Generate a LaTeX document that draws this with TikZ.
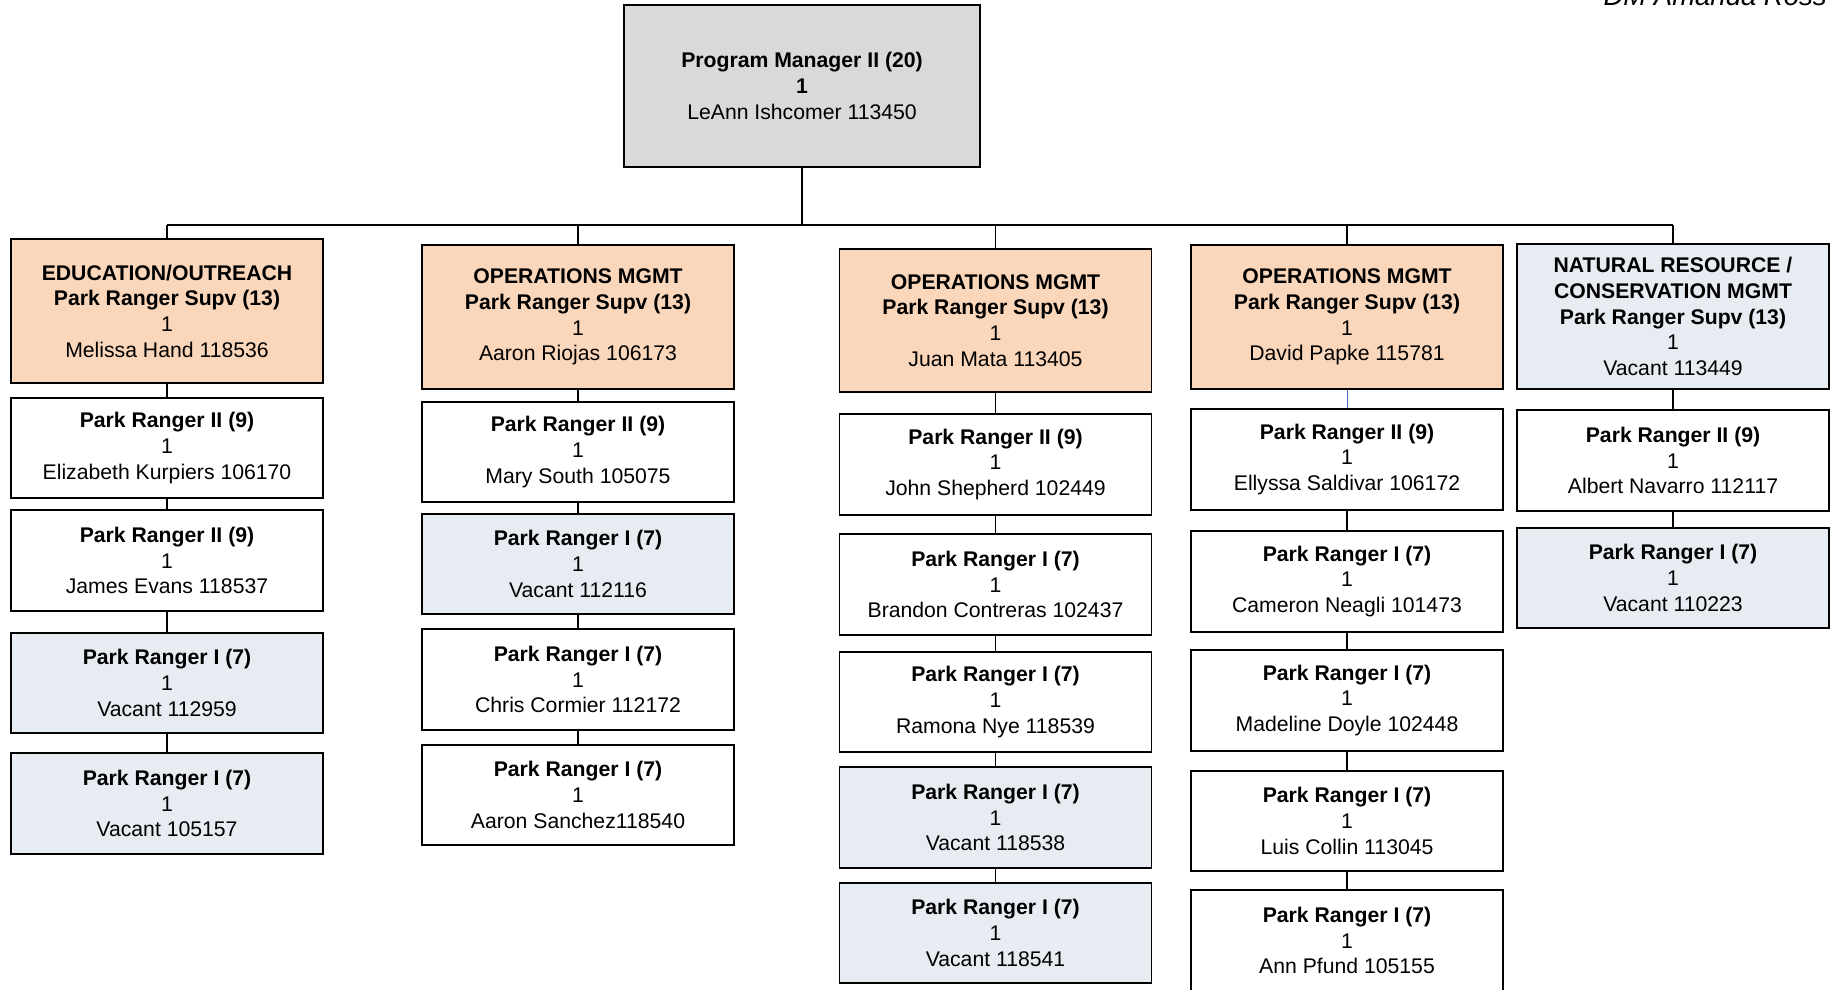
\documentclass[tikz,border=0pt]{standalone}
\usepackage{fontspec}
\setmainfont{Liberation Sans}
\definecolor{peach}{HTML}{FAD6BA}
\definecolor{vac}{HTML}{E7ECF3}
\definecolor{topgray}{HTML}{D9D9D9}
\definecolor{linkblue}{HTML}{4472C4}
\tikzset{
  orgbox/.style={draw=black, line width=1.5pt, inner sep=0pt, align=center,
    font=\fontsize{21.2}{25.7}\selectfont, fill=white},
  supbox/.style={orgbox, fill=peach},
  vacbox/.style={orgbox, fill=vac},
  plainbox/.style={orgbox, fill=white},
  topbox/.style={orgbox, fill=topgray},
  link/.style={draw=black, line width=1.6pt},
  buslink/.style={draw=black, line width=2pt},
}
% name, cx, top, bottom, style, text
\newcommand\orgnode[6]{%
  \node[#5, minimum width=312pt, minimum height={(#4-#3)*1pt}] (#1) at (#2,{(#3+#4)/2}) {#6};}
\begin{document}
\begin{tikzpicture}[x=1pt,y=-1pt]
\useasboundingbox (0,0) rectangle (1831,990);

\node[anchor=base west, font=\fontsize{27.5}{30}\selectfont\itshape] (dm) at (1600,6) {DM Amanda Ross};

\node[topbox, minimum width=356pt, minimum height=162pt] (pm) at (802,86)
  {\textbf{Program Manager II (20)}\\\textbf{1}\\LeAnn Ishcomer 113450};

\coordinate (bus) at (0,225);

% column 1
\orgnode{c1s}{167}{239}{383}{supbox}{\textbf{EDUCATION/OUTREACH}\\\textbf{Park Ranger Supv (13)}\\1\\Melissa Hand 118536}
\orgnode{c1a}{167}{398}{498}{plainbox}{\textbf{Park Ranger II (9)}\\1\\Elizabeth Kurpiers 106170}
\orgnode{c1b}{167}{510}{611}{plainbox}{\textbf{Park Ranger II (9)}\\1\\James Evans 118537}
\orgnode{c1c}{167}{633}{733}{vacbox}{\textbf{Park Ranger I (7)}\\1\\Vacant 112959}
\orgnode{c1d}{167}{753}{854}{vacbox}{\textbf{Park Ranger I (7)}\\1\\Vacant 105157}

% column 2
\orgnode{c2s}{578}{245}{389}{supbox}{\textbf{OPERATIONS MGMT}\\\textbf{Park Ranger Supv (13)}\\1\\Aaron Riojas 106173}
\orgnode{c2a}{578}{402}{502}{plainbox}{\textbf{Park Ranger II (9)}\\1\\Mary South 105075}
\orgnode{c2b}{578}{514}{614}{vacbox}{\textbf{Park Ranger I (7)}\\1\\Vacant 112116}
\orgnode{c2c}{578}{629}{730}{plainbox}{\textbf{Park Ranger I (7)}\\1\\Chris Cormier 112172}
\orgnode{c2d}{578}{745}{845}{plainbox}{\textbf{Park Ranger I (7)}\\1\\Aaron Sanchez118540}

% column 3
\orgnode{c3s}{995.5}{249}{392}{supbox}{\textbf{OPERATIONS MGMT}\\\textbf{Park Ranger Supv (13)}\\1\\Juan Mata 113405}
\orgnode{c3a}{995.5}{414}{515}{plainbox}{\textbf{Park Ranger II (9)}\\1\\John Shepherd 102449}
\orgnode{c3b}{995.5}{534}{635}{plainbox}{\textbf{Park Ranger I (7)}\\1\\Brandon Contreras 102437}
\orgnode{c3c}{995.5}{652}{752}{plainbox}{\textbf{Park Ranger I (7)}\\1\\Ramona Nye 118539}
\orgnode{c3d}{995.5}{767}{868}{vacbox}{\textbf{Park Ranger I (7)}\\1\\Vacant 118538}
\orgnode{c3e}{995.5}{883}{983}{vacbox}{\textbf{Park Ranger I (7)}\\1\\Vacant 118541}

% column 4
\orgnode{c4s}{1347}{245}{389}{supbox}{\textbf{OPERATIONS MGMT}\\\textbf{Park Ranger Supv (13)}\\1\\David Papke 115781}
\orgnode{c4a}{1347}{409}{510}{plainbox}{\textbf{Park Ranger II (9)}\\1\\Ellyssa Saldivar 106172}
\orgnode{c4b}{1347}{531}{632}{plainbox}{\textbf{Park Ranger I (7)}\\1\\Cameron Neagli 101473}
\orgnode{c4c}{1347}{650}{751}{plainbox}{\textbf{Park Ranger I (7)}\\1\\Madeline Doyle 102448}
\orgnode{c4d}{1347}{771}{871}{plainbox}{\textbf{Park Ranger I (7)}\\1\\Luis Collin 113045}
\orgnode{c4e}{1347}{890}{991}{plainbox}{\textbf{Park Ranger I (7)}\\1\\Ann Pfund 105155}

% column 5
\orgnode{c5s}{1673}{244}{389}{vacbox}{\textbf{NATURAL RESOURCE /}\\\textbf{CONSERVATION MGMT}\\\textbf{Park Ranger Supv (13)}\\1\\Vacant 113449}
\orgnode{c5a}{1673}{410}{511}{plainbox}{\textbf{Park Ranger II (9)}\\1\\Albert Navarro 112117}
\orgnode{c5b}{1673}{528}{628}{vacbox}{\textbf{Park Ranger I (7)}\\1\\Vacant 110223}

% bus
\draw[buslink] (pm.south) -- (pm.south |- bus);
\draw[buslink] (c1s.north |- bus) -- (c5s.north |- bus);
\foreach \c in {c1s,c2s,c3s,c4s,c5s}{
  \draw[link] (\c.north |- bus) -- (\c.north);
}
% columns
\draw[link] (c1s.south) -- (c1a.north);
\draw[link] (c1a.south) -- (c1b.north);
\draw[link] (c1b.south) -- (c1c.north);
\draw[link] (c1c.south) -- (c1d.north);
\draw[link] (c2s.south) -- (c2a.north);
\draw[link] (c2a.south) -- (c2b.north);
\draw[link] (c2b.south) -- (c2c.north);
\draw[link] (c2c.south) -- (c2d.north);
\draw[link] (c3s.south) -- (c3a.north);
\draw[link] (c3a.south) -- (c3b.north);
\draw[link] (c3b.south) -- (c3c.north);
\draw[link] (c3c.south) -- (c3d.north);
\draw[link] (c3d.south) -- (c3e.north);
\draw[draw=linkblue, line width=1pt] (c4s.south) -- (c4a.north);
\draw[link] (c4a.south) -- (c4b.north);
\draw[link] (c4b.south) -- (c4c.north);
\draw[link] (c4c.south) -- (c4d.north);
\draw[link] (c4d.south) -- (c4e.north);
\draw[link] (c5s.south) -- (c5a.north);
\draw[link] (c5a.south) -- (c5b.north);
\end{tikzpicture}
\end{document}
